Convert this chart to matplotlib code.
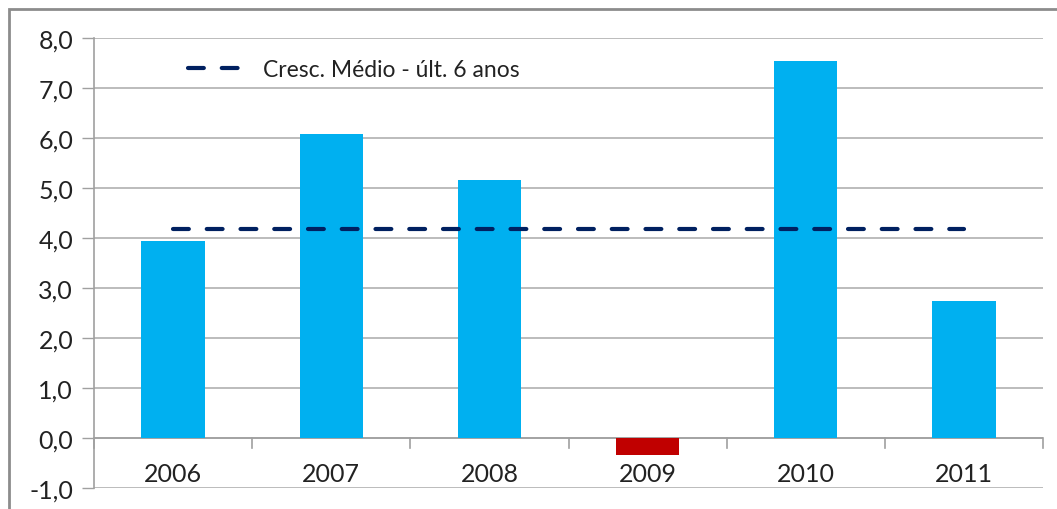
import matplotlib.pyplot as plt
from matplotlib.patches import Rectangle

# data
years = ['2006', '2007', '2008', '2009', '2010', '2011']
growth = [3.94, 6.09, 5.16, -0.34, 7.54, 2.74]
avg_growth = 4.18
legend_label = 'Cresc. Médio - últ. 6 anos'
yticks = [-1, 0, 1, 2, 3, 4, 5, 6, 7, 8]

plt.rcParams['font.family'] = ['Lato', 'DejaVu Sans']

fig = plt.figure(figsize=(10.57, 5.10), dpi=100)
ax = fig.add_axes([94 / 1057, 21 / 510, 949 / 1057, 450 / 510])

# bars: blue for growth, red for contraction
x = list(range(len(years)))
colors = ['#00B0F0' if v >= 0 else '#C00000' for v in growth]
ax.bar(x, growth, width=0.4, color=colors, zorder=3)

# average growth line from first to last category
ax.plot([x[0], x[-1]], [avg_growth, avg_growth], color='#002060', lw=3,
        dashes=(3.8, 4.3), dash_capstyle='round', zorder=4, label=legend_label)

ax.set_xlim(-0.5, len(years) - 0.5)
ax.set_ylim(-1, 8)
ax.set_yticks(yticks)
ax.set_yticklabels([f'{t:.1f}'.replace('.', ',') for t in yticks], fontsize=18, color='#222222')
ax.tick_params(axis='y', length=9, width=1, color='#A0A0A0', pad=6)
ax.set_xticks([])
ax.grid(axis='y', color='#B0B0B0', lw=1.2, zorder=0)

for s in ['top', 'right', 'bottom']:
    ax.spines[s].set_visible(False)
ax.spines['left'].set_color('#A0A0A0')
ax.spines['left'].set_linewidth(1.2)

# category axis sits on zero, with small ticks between categories
ax.axhline(0, color='#A0A0A0', lw=1.2, zorder=2)
for b in range(len(years) + 1):
    ax.plot([b - 0.5, b - 0.5], [0, -0.2], color='#A0A0A0', lw=1.2, clip_on=False)
for i, y in enumerate(years):
    ax.text(i, -0.72, y, ha='center', va='center', fontsize=18, color='#222222')

leg = ax.legend(loc='upper left', bbox_to_anchor=(0.077, 1.0), frameon=False,
                fontsize=16.5, handlelength=2.45, handletextpad=0.83)
for t in leg.get_texts():
    t.set_color('#222222')

# outer chart frame
fig.patches.append(Rectangle((9 / 1057, -0.1), 1.2, 500 / 510 + 0.1,
                             transform=fig.transFigure, fill=False,
                             edgecolor='#8C8C8C', lw=2))

fig.savefig('out.png', dpi=100)
